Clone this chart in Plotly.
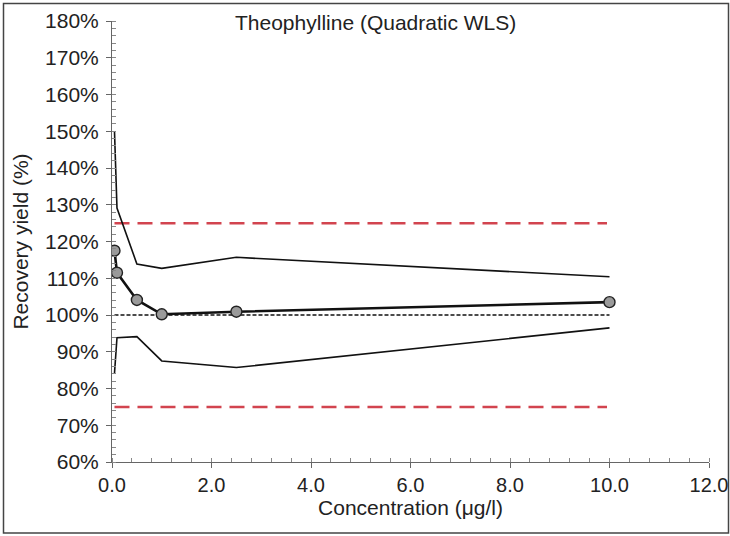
import plotly.graph_objects as go

conc = [0.05, 0.1, 0.5, 1.0, 2.5, 10.0]
recovery = [117.5, 111.5, 104.1, 100.2, 100.9, 103.5]
upper = [150.0, 129.1, 113.9, 112.7, 115.7, 110.4]
lower = [84.1, 93.8, 94.1, 87.5, 85.7, 96.5]
limit_x = [0.05, 9.95]
upper_limit = [125, 125]
lower_limit = [75, 75]
target_x = [0.05, 10.0]
target = [100, 100]

W, H = 730, 536
L, R, T, B = 112, 21, 21, 74
pw, ph = W - L - R, H - T - B

def px(x):
    return (x - L) / pw

def py(y):
    return (H - B - y) / ph

fig = go.Figure()
fig.add_trace(go.Scatter(x=limit_x, y=upper_limit, mode="lines",
                         line=dict(color="#d2444f", width=2.5, dash="15px,8px")))
fig.add_trace(go.Scatter(x=limit_x, y=lower_limit, mode="lines",
                         line=dict(color="#d2444f", width=2.5, dash="15px,8px")))
fig.add_trace(go.Scatter(x=target_x, y=target, mode="lines",
                         line=dict(color="#111", width=1.3, dash="4px,2px")))
fig.add_trace(go.Scatter(x=conc, y=upper, mode="lines",
                         line=dict(color="#111", width=1.6)))
fig.add_trace(go.Scatter(x=conc, y=lower, mode="lines",
                         line=dict(color="#111", width=1.6)))
fig.add_trace(go.Scatter(x=conc, y=recovery, mode="lines+markers",
                         line=dict(color="#111", width=2.6),
                         marker=dict(size=11, color="#9a9a9a",
                                     line=dict(color="#222", width=1.4))))

font = "Liberation Sans, Arial, sans-serif"
fig.update_layout(
    width=W, height=H,
    margin=dict(l=L, r=R, t=T, b=B),
    paper_bgcolor="white", plot_bgcolor="white",
    showlegend=False,
    font=dict(family=font, size=21, color="#222"),
    annotations=[dict(text="Theophylline (Quadratic WLS)", x=px(375), y=py(22),
                      xref="paper", yref="paper", showarrow=False,
                      font=dict(size=21, color="#222"), xanchor="center", yanchor="middle")],
    shapes=[dict(type="rect", xref="paper", yref="paper",
                 x0=px(3.5), x1=px(728.5), y0=py(533), y1=py(3.5),
                 line=dict(color="#444", width=1.5), layer="below")],
)
fig.update_xaxes(range=[0, 12], tickvals=[0, 2, 4, 6, 8, 10, 12],
                 ticktext=["0.0", "2.0", "4.0", "6.0", "8.0", "10.0", "12.0"],
                 ticklabeloverflow="allow", automargin=False,
                 showgrid=False, zeroline=False, showline=True, linecolor="#666", linewidth=1,
                 ticks="outside", ticklen=5, tickcolor="#666",
                 minor=dict(dtick=0.4, ticks="inside", ticklen=4, tickcolor="#888"),
                 title=dict(text="Concentration (μg/l)", font=dict(size=21), standoff=4),
                 tickfont=dict(size=20))
fig.update_yaxes(range=[60, 180], dtick=10, ticksuffix="%",
                 ticklabelstandoff=3, automargin=False,
                 showgrid=False, zeroline=False, showline=True, linecolor="#666", linewidth=1,
                 ticks="outside", ticklen=5, tickcolor="#666",
                 minor=dict(dtick=2, ticks="inside", ticklen=4, tickcolor="#888"),
                 title=dict(text="Recovery yield (%)", font=dict(size=21), standoff=10),
                 tickfont=dict(size=21))

fig.write_html("out.html")
